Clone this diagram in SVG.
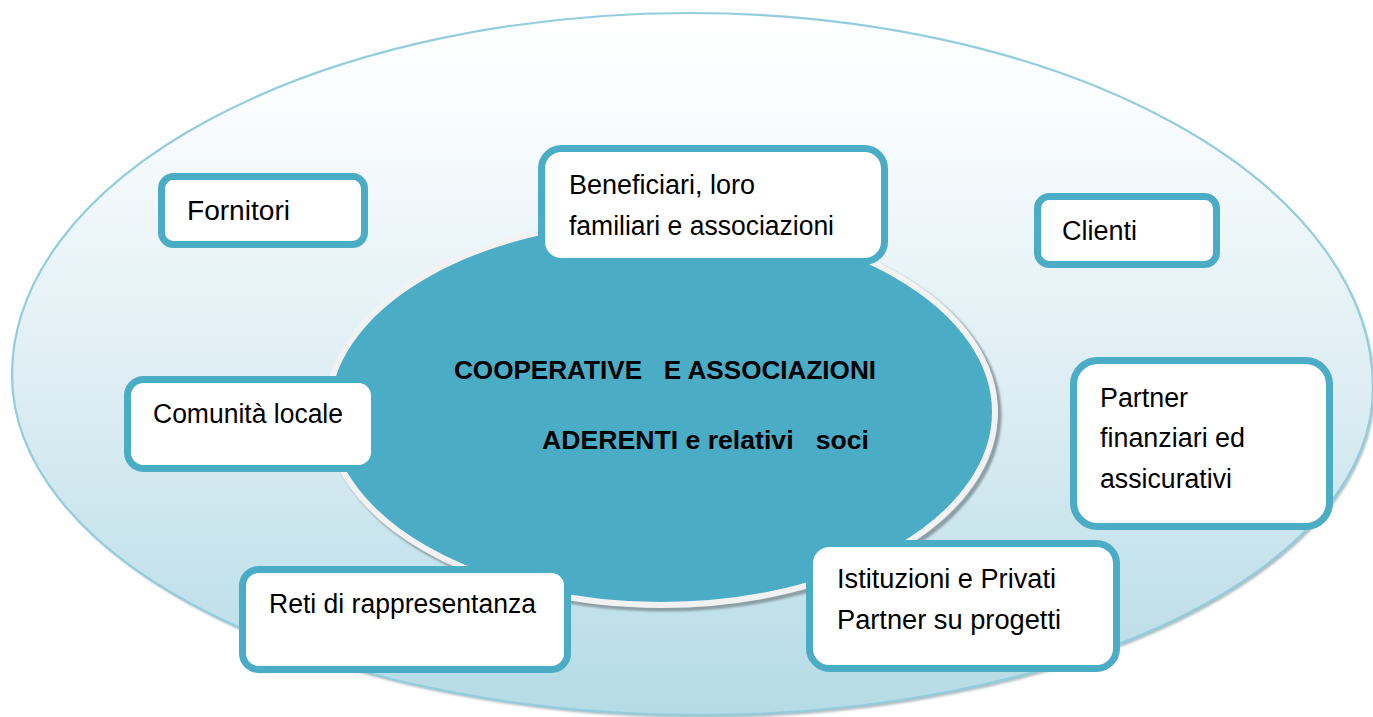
<svg xmlns="http://www.w3.org/2000/svg" width="1373" height="717" viewBox="0 0 1373 717">
  <defs>
    <linearGradient id="outerGrad" x1="0" y1="0" x2="0" y2="1">
      <stop offset="0" stop-color="#ffffff"/>
      <stop offset="0.12" stop-color="#fbfdfe"/>
      <stop offset="0.55" stop-color="#dcedf3"/>
      <stop offset="1" stop-color="#b4dbe6"/>
    </linearGradient>
    <filter id="soft" x="-5%" y="-5%" width="110%" height="110%">
      <feGaussianBlur stdDeviation="1.2"/>
    </filter>
  </defs>
  <style>
    .box { fill: #ffffff; stroke: #4bacc6; stroke-width: 7; }
    .lbl { font-family: "Liberation Sans", Arial, sans-serif; font-size: 27px; fill: #000000; }
    .core { font-family: "Liberation Sans", Arial, sans-serif; font-size: 26px; font-weight: bold; fill: #000000; white-space: pre; }
  </style>

  <g id="outer-ring">
    <path d="M 12 375 A 678 362 0 0 1 690 13 A 683 375 0 0 1 1373 388 A 673 327 0 0 1 700 715 A 688 340 0 0 1 12 375 Z" fill="#8fa3aa" opacity="0.7" transform="translate(2,3)" filter="url(#soft)"/>
    <path d="M 12 375 A 678 362 0 0 1 690 13 A 683 375 0 0 1 1373 388 A 673 327 0 0 1 700 715 A 688 340 0 0 1 12 375 Z" fill="url(#outerGrad)" stroke="#93cddd" stroke-width="2.2"/>
  </g>

  <g id="core">
    <ellipse cx="664" cy="415" rx="335" ry="194" fill="none" stroke="#8a9ca2" stroke-width="5" filter="url(#soft)"/>
    <ellipse cx="661" cy="412" rx="334" ry="193" fill="#4bacc6" stroke="#f2f2f2" stroke-width="6"/>
    <text class="core" xml:space="preserve" x="454" y="379" textLength="422" lengthAdjust="spacingAndGlyphs">COOPERATIVE   E ASSOCIAZIONI</text>
    <text class="core" xml:space="preserve" x="542" y="449" textLength="327" lengthAdjust="spacingAndGlyphs">ADERENTI e relativi   soci</text>
  </g>

  <g id="node-fornitori">
    <rect class="box" x="161.5" y="176.5" width="203" height="68" rx="12"/>
    <text class="lbl" x="187" y="220" textLength="103" lengthAdjust="spacingAndGlyphs">Fornitori</text>
  </g>

  <g id="node-beneficiari">
    <rect class="box" x="541.5" y="148.5" width="343" height="113" rx="20"/>
    <text class="lbl" x="569" y="194" textLength="186" lengthAdjust="spacingAndGlyphs">Beneficiari, loro</text>
    <text class="lbl" x="569" y="235" textLength="265" lengthAdjust="spacingAndGlyphs">familiari e associazioni</text>
  </g>

  <g id="node-clienti">
    <rect class="box" x="1037.5" y="196.5" width="179" height="68" rx="12"/>
    <text class="lbl" x="1062" y="240" textLength="75" lengthAdjust="spacingAndGlyphs">Clienti</text>
  </g>

  <g id="node-comunita">
    <rect class="box" x="127.5" y="379.5" width="247" height="89" rx="16"/>
    <text class="lbl" x="153" y="423" textLength="190" lengthAdjust="spacingAndGlyphs">Comunità locale</text>
  </g>

  <g id="node-partner-finanziari">
    <rect class="box" x="1073.5" y="360.5" width="256" height="166" rx="24"/>
    <text class="lbl" x="1100" y="407" textLength="88" lengthAdjust="spacingAndGlyphs">Partner</text>
    <text class="lbl" x="1100" y="447" textLength="145" lengthAdjust="spacingAndGlyphs">finanziari ed</text>
    <text class="lbl" x="1100" y="488" textLength="132" lengthAdjust="spacingAndGlyphs">assicurativi</text>
  </g>

  <g id="node-istituzioni">
    <rect class="box" x="809.5" y="543.5" width="307" height="125" rx="20"/>
    <text class="lbl" x="837" y="588" textLength="219" lengthAdjust="spacingAndGlyphs">Istituzioni e Privati</text>
    <text class="lbl" x="837" y="629" textLength="224" lengthAdjust="spacingAndGlyphs">Partner su progetti</text>
  </g>

  <g id="node-reti">
    <rect class="box" x="242.5" y="569.5" width="325" height="100" rx="16"/>
    <text class="lbl" x="269" y="613" textLength="267" lengthAdjust="spacingAndGlyphs">Reti di rappresentanza</text>
  </g>
</svg>
